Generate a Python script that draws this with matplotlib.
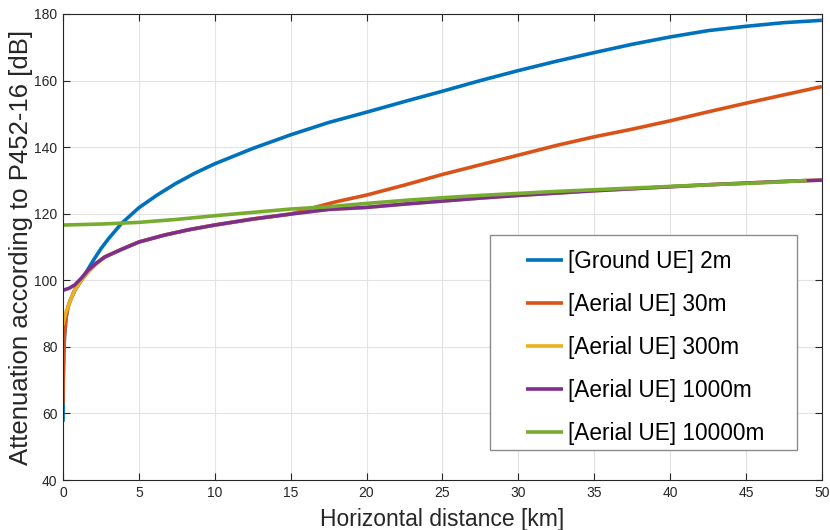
import matplotlib
matplotlib.use('Agg')
import matplotlib.pyplot as plt
from matplotlib.patches import Rectangle


# distances [km] and attenuation [dB]
ground_2m_x = [0, 0.01, 0.02, 0.05, 0.1, 0.2, 0.33, 0.5, 0.77, 1.2, 1.5, 2.0, 2.5, 3.0, 3.86, 5, 6.2, 7.4, 8.7,
               10, 12.5, 15, 17.5, 20, 22.5, 25, 27.5, 30, 32.5, 35, 37.5, 40, 42.5, 45, 47.5, 50]
ground_2m_y = [57.5, 64, 71, 78, 83.5, 88.8, 92, 94.2, 97, 100, 102.2, 106, 109.5, 112.5, 117.1, 121.8, 125.6, 129, 132.2,
               135, 139.6, 143.7, 147.4, 150.5, 153.7, 156.8, 160, 163, 165.8, 168.4, 170.9, 173.1, 175, 176.3, 177.4, 178.1]

aerial_30m_x = [0, 0.02, 0.05, 0.1, 0.2, 0.33, 0.5, 0.77, 1.2, 1.65, 2.2, 2.75, 3.86, 5, 6.7, 8.3, 10, 12.5, 15,
                16, 17, 18, 20, 22.5, 25, 27.5, 30, 32.5, 35, 37.5, 40, 42.5, 45, 47.5, 50]
aerial_30m_y = [63, 71, 78, 83.5, 88.8, 92, 94.2, 97, 100, 102.5, 105, 107, 109.3, 111.5, 113.6, 115.2, 116.6, 118.4, 119.9,
                121.2, 122.4, 123.6, 125.6, 128.6, 131.8, 134.7, 137.6, 140.5, 143.1, 145.4, 147.9, 150.6, 153.2, 155.7, 158.2]

aerial_300m_x = [0, 0.1, 0.2, 0.33, 0.5, 0.77, 1.2, 1.65, 2.2, 2.75, 3.86, 5, 6.7, 8.3, 10, 12.5, 15, 17.5,
                 20, 22.5, 25, 27.5, 30, 32.5, 35, 37.5, 40, 42.5, 45, 47.5, 50]
aerial_300m_y = [86.5, 88.8, 90.5, 92, 94.2, 97, 100, 102.5, 105, 107, 109.3, 111.5, 113.6, 115.2, 116.6, 118.4, 119.9, 121.3,
                 121.9, 122.9, 123.8, 124.7, 125.5, 126.2, 126.9, 127.5, 128.1, 128.7, 129.2, 129.7, 130.1]

aerial_1000m_x = [0, 0.4, 0.77, 1.2, 1.65, 2.2, 2.75, 3.86, 5, 6.7, 8.3, 10, 12.5, 15, 17.5,
                  20, 22.5, 25, 27.5, 30, 32.5, 35, 37.5, 40, 42.5, 45, 47.5, 50]
aerial_1000m_y = [97, 97.6, 98.6, 100.6, 103, 105.2, 107, 109.3, 111.5, 113.6, 115.2, 116.6, 118.4, 119.9, 121.3,
                  121.9, 122.9, 123.8, 124.7, 125.5, 126.2, 126.9, 127.5, 128.1, 128.7, 129.2, 129.7, 130.1]

aerial_10000m_x = [0, 2.5, 5, 7.5, 10, 12.5, 15, 17.5, 20, 22.5, 25, 27.5, 30, 32.5, 35, 37.5, 40, 42.5, 45, 47.5, 49]
aerial_10000m_y = [116.6, 116.9, 117.4, 118.3, 119.4, 120.4, 121.4, 122.1, 123.1, 124, 124.8, 125.5, 126.1, 126.7,
                   127.2, 127.7, 128.2, 128.7, 129.1, 129.6, 130.0]

labels = ['[Ground UE] 2m', '[Aerial UE] 30m', '[Aerial UE] 300m', '[Aerial UE] 1000m', '[Aerial UE] 10000m']
colors = ['#0072BD', '#D95319', '#EDB120', '#7E2F8E', '#77AC30']


def main():
    plt.rcParams['font.family'] = ['Liberation Sans', 'DejaVu Sans']

    fig = plt.figure(figsize=(8.3, 5.3), dpi=100)
    ax = fig.add_axes([0.0759, 0.0943, 0.9143, 0.8793])

    series = [
        (ground_2m_x, ground_2m_y),
        (aerial_30m_x, aerial_30m_y),
        (aerial_300m_x, aerial_300m_y),
        (aerial_1000m_x, aerial_1000m_y),
        (aerial_10000m_x, aerial_10000m_y),
    ]
    for (x, y), lab, c in zip(series, labels, colors):
        ax.plot(x, y, color=c, linewidth=2.6, label=lab, solid_capstyle='butt')

    ax.set_xlim(0, 50)
    ax.set_ylim(40, 180)
    ax.set_xticks(range(0, 51, 5))
    ax.set_yticks(range(40, 181, 20))
    ax.grid(True, color='#e3e3e3', linewidth=0.8)
    ax.set_axisbelow(True)
    for s in ax.spines.values():
        s.set_color('#262626')
        s.set_linewidth(0.8)
    ax.tick_params(direction='in', top=True, right=True, length=5, width=0.8,
                   colors='#262626', labelsize=10, pad=4)

    ax.set_xlabel('Horizontal distance [km]', fontsize=16.5, color='#262626', labelpad=6)
    ax.set_ylabel('Attenuation according to P452-16 [dB]', fontsize=18.5, color='#262626', labelpad=1)

    # legend box drawn by hand so the left padding can be wider than the rest
    ax.add_patch(Rectangle((0.5626, 0.0644), 0.4044, 0.4614, transform=ax.transAxes,
                           facecolor='white', edgecolor='#8c8c8c', linewidth=1.0, zorder=4))
    leg = ax.legend(loc='upper left', bbox_to_anchor=(0.61, 0.4936), fontsize=16.3,
                    frameon=False, handlelength=1.64, handletextpad=0.2,
                    labelspacing=0.88, borderpad=0, borderaxespad=0)
    leg.set_zorder(5)

    plt.savefig('out.png', dpi=100)
    plt.close()


if __name__ == '__main__':
    main()
